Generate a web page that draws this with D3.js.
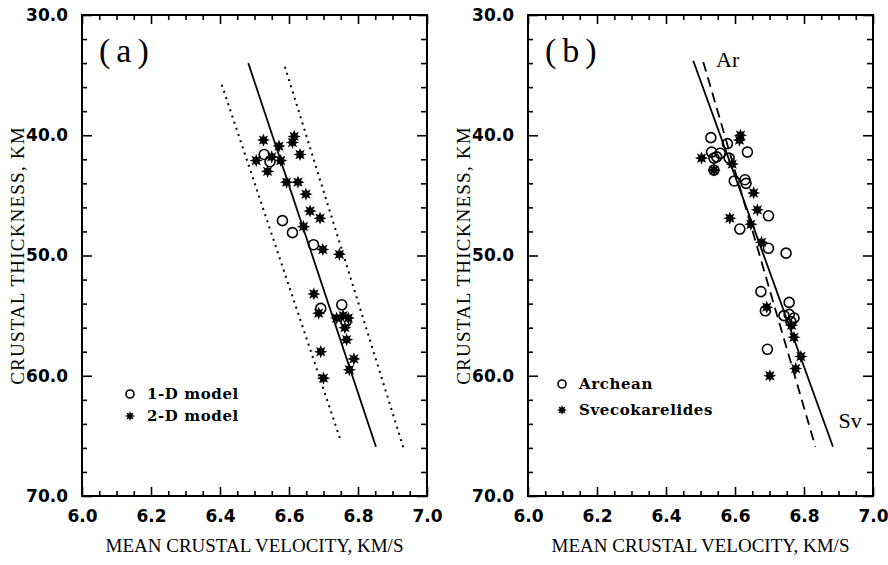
<!DOCTYPE html>
<meta charset="utf-8">
<style>
body { margin: 0; background: #fff; }
svg text { fill: #000; }
.ticks line { stroke: #000; stroke-width: 1.6; }
.tlab text { font: bold 17px "DejaVu Sans", sans-serif; }
.title { font: 19px "Liberation Serif", serif; }
.ytitle { letter-spacing: 1.2px; }
.panel-tag { font: 34px "Liberation Serif", serif; letter-spacing: 6px; }
.curve-tag { font: 22px "Liberation Serif", serif; }
.legend text { font: bold 15px "DejaVu Serif", serif; letter-spacing: 0.6px; }
</style>
<script src="https://cdn.jsdelivr.net/npm/d3@7"></script>
<body>
<svg id="chart" width="888" height="565"></svg>
<script>
// tick labels
var xTicks = [6.0, 6.2, 6.4, 6.6, 6.8, 7.0];
var yTicks = [30, 40, 50, 60, 70];

// panel (a): [mean crustal velocity km/s, crustal thickness km]
var oneD = [[6.528, 41.6], [6.545, 42.2], [6.581, 47.1], [6.610, 48.1], [6.671, 49.1],
            [6.753, 54.1], [6.692, 54.4], [6.765, 55.5]];
var twoD = [[6.526, 40.4], [6.615, 40.1], [6.610, 40.6], [6.571, 40.9], [6.550, 41.8],
            [6.505, 42.1], [6.576, 42.1], [6.632, 41.6], [6.538, 43.0], [6.593, 43.9],
            [6.626, 43.9], [6.649, 44.9], [6.661, 46.3], [6.690, 46.9], [6.642, 47.6],
            [6.698, 49.5], [6.746, 49.9], [6.672, 53.2], [6.686, 54.8], [6.738, 55.2],
            [6.757, 55.0], [6.772, 55.2], [6.762, 56.0], [6.767, 57.0], [6.692, 58.0],
            [6.788, 58.6], [6.775, 59.5], [6.700, 60.2]];
var fitA = [[6.482, 34.0], [6.852, 65.9]];
var lowA = [[6.405, 35.8], [6.751, 65.5]];
var highA = [[6.588, 34.3], [6.935, 66.3]];

// panel (b)
var archean = [[6.530, 40.2], [6.578, 40.7], [6.636, 41.4], [6.532, 41.4], [6.557, 41.5],
               [6.547, 41.8], [6.539, 41.9], [6.583, 41.9], [6.539, 42.9], [6.598, 43.8],
               [6.629, 43.7], [6.632, 44.0], [6.697, 46.7], [6.614, 47.8], [6.697, 49.4],
               [6.748, 49.8], [6.675, 53.0], [6.757, 53.9], [6.688, 54.6], [6.742, 55.0],
               [6.757, 54.9], [6.771, 55.2], [6.762, 55.5], [6.694, 57.8]];
var sveco = [[6.616, 40.0], [6.613, 40.4], [6.503, 41.9], [6.592, 42.4], [6.539, 42.9],
             [6.654, 44.8], [6.665, 46.2], [6.585, 46.9], [6.646, 47.4], [6.677, 48.9],
             [6.692, 54.3], [6.764, 55.8], [6.771, 56.8], [6.791, 58.4], [6.776, 59.4],
             [6.701, 60.0]];
var svLine = [[6.479, 33.8], [6.884, 65.9]];
var arLine = [[6.508, 33.9], [6.833, 65.9]];

var W = 345, TOP = 15, BOT = 496;
var svg = d3.select("#chart");

function starPath(R, r) {
  var p = [];
  for (var i = 0; i < 16; i++) {
    var a = i * Math.PI / 8 - Math.PI / 2, rr = i % 2 ? r : R;
    p.push([rr * Math.cos(a), rr * Math.sin(a)]);
  }
  return "M" + p.join("L") + "Z";
}
var STAR = starPath(6.6, 3.4);

function tickSet(g, axis, tr, vals, size) {
  g.append("g").attr("class", "ticks").attr("transform", tr)
    .call(axis.tickValues(vals).tickSize(size).tickFormat(""))
    .call(function (s) { s.select(".domain").remove(); });
}

function panel(x0, tag) {
  var g = svg.append("g");
  var x = d3.scaleLinear().domain([6.0, 7.0]).range([x0, x0 + W]);
  var y = d3.scaleLinear().domain([30, 70]).range([TOP, BOT]);
  var xMinor = d3.range(0, 21).map(function (i) { return 6 + i * 0.05; }).filter(function (v, i) { return i % 4; });
  var yMinor = d3.range(30, 71, 2).filter(function (v) { return v % 10; });
  var x1 = x0 + W;

  tickSet(g, d3.axisTop(x), "translate(0," + BOT + ")", xTicks, 9);
  tickSet(g, d3.axisTop(x), "translate(0," + BOT + ")", xMinor, 5);
  tickSet(g, d3.axisBottom(x), "translate(0," + TOP + ")", xTicks, 9);
  tickSet(g, d3.axisBottom(x), "translate(0," + TOP + ")", xMinor, 5);
  tickSet(g, d3.axisRight(y), "translate(" + x0 + ",0)", yTicks, 10);
  tickSet(g, d3.axisRight(y), "translate(" + x0 + ",0)", yMinor, 5);
  tickSet(g, d3.axisLeft(y), "translate(" + x1 + ",0)", yTicks, 10);
  tickSet(g, d3.axisLeft(y), "translate(" + x1 + ",0)", yMinor, 6);

  g.append("rect").attr("x", x0).attr("y", TOP).attr("width", W).attr("height", BOT - TOP)
    .attr("fill", "none").attr("stroke", "#000").attr("stroke-width", 2);

  g.append("g").attr("class", "tlab").attr("transform", "translate(0," + BOT + ")")
    .call(d3.axisBottom(x).tickValues(xTicks).tickSize(0).tickPadding(14).tickFormat(d3.format(".1f")))
    .call(function (s) { s.select(".domain").remove(); });
  g.append("g").attr("class", "tlab").attr("transform", "translate(" + x0 + ",0)")
    .call(d3.axisLeft(y).tickValues(yTicks).tickSize(0).tickPadding(14).tickFormat(d3.format(".1f")))
    .call(function (s) { s.select(".domain").remove(); });

  g.append("text").attr("class", "title").attr("x", x0 + W / 2).attr("y", 552)
    .attr("text-anchor", "middle").text("MEAN CRUSTAL VELOCITY, KM/S");
  g.append("text").attr("class", "title ytitle").attr("text-anchor", "middle")
    .attr("transform", "translate(" + (x0 - 58) + "," + ((TOP + BOT) / 2) + ") rotate(-90)")
    .text("CRUSTAL THICKNESS, KM");

  g.append("text").attr("class", "panel-tag").attr("x", x0 + 17).attr("y", 62).text(tag);
  return { g: g, x: x, y: y };
}

function drawLine(p, data, dash, w) {
  p.g.append("path").datum(data)
    .attr("d", d3.line().x(function (d) { return p.x(d[0]); }).y(function (d) { return p.y(d[1]); }))
    .attr("fill", "none").attr("stroke", "#000").attr("stroke-width", w)
    .attr("stroke-dasharray", dash);
}
function drawCircles(p, data) {
  p.g.append("g").selectAll("circle").data(data).join("circle")
    .attr("cx", function (d) { return p.x(d[0]); }).attr("cy", function (d) { return p.y(d[1]); })
    .attr("r", 5).attr("fill", "none").attr("stroke", "#000").attr("stroke-width", 1.6);
}
function drawStars(p, data) {
  p.g.append("g").selectAll("path").data(data).join("path")
    .attr("transform", function (d) { return "translate(" + p.x(d[0]) + "," + p.y(d[1]) + ")"; })
    .attr("d", STAR).attr("fill", "#000");
}
function legend(p, lx, ly, gap, labels) {
  var lg = p.g.append("g").attr("class", "legend");
  lg.append("circle").attr("cx", lx).attr("cy", ly).attr("r", 4)
    .attr("fill", "none").attr("stroke", "#000").attr("stroke-width", 1.6);
  lg.append("path").attr("transform", "translate(" + lx + "," + (ly + gap) + ")")
    .attr("d", starPath(5, 2.6)).attr("fill", "#000");
  lg.selectAll("text").data(labels).join("text")
    .attr("x", lx + 17).attr("y", function (d, i) { return ly + i * gap + 5; }).text(function (d) { return d; });
}

var a = panel(82, "(a)");
drawLine(a, fitA, null, 1.8);
drawLine(a, lowA, "2,4.5", 2);
drawLine(a, highA, "2,4.5", 2);
drawCircles(a, oneD);
drawStars(a, twoD);
legend(a, 130, 394, 22, ["1-D model", "2-D model"]);

var b = panel(528, "(b)");
drawLine(b, svLine, null, 1.8);
drawLine(b, arLine, "10,6", 1.8);
drawCircles(b, archean);
drawStars(b, sveco);
legend(b, 562, 384, 26, ["Archean", "Svecokarelides"]);
b.g.append("text").attr("class", "curve-tag").attr("x", b.x(6.545)).attr("y", 67).text("Ar");
b.g.append("text").attr("class", "curve-tag").attr("x", b.x(6.9)).attr("y", 428).text("Sv");
</script>
</body>
